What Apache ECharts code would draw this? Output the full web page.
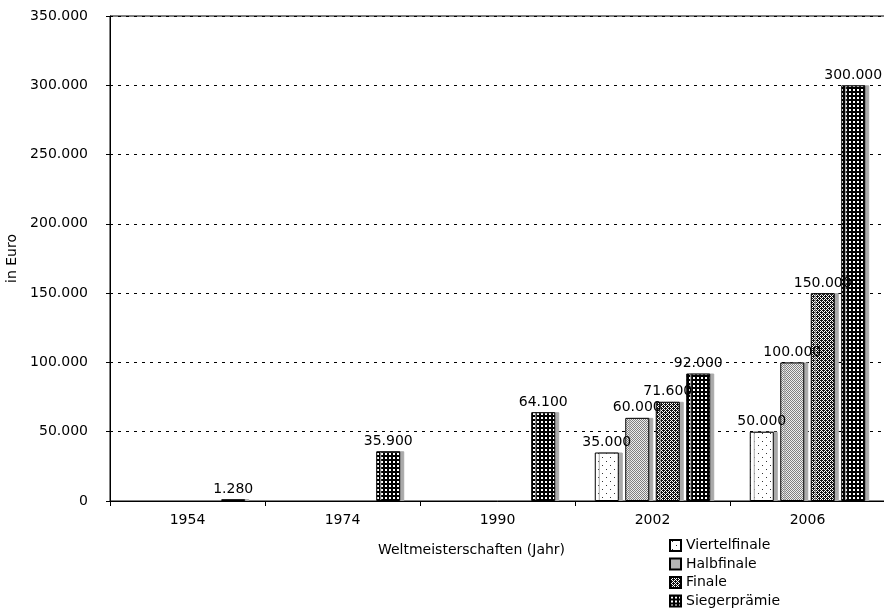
<!DOCTYPE html>
<html><head><meta charset="utf-8">
<script src="https://cdn.jsdelivr.net/npm/echarts@6/dist/echarts.min.js"></script>
<style>html,body{margin:0;padding:0;background:#fff}#c{width:884px;height:610px}</style>
</head><body><div id="c"></div>
<script>
const categories = ['1954', '1974', '1990', '2002', '2006'];
const seriesNames = ['Viertelfinale', 'Halbfinale', 'Finale', 'Siegerprämie'];
const viertelfinale = [null, null, null, 35000, 50000];
const halbfinale = [null, null, null, 60000, 100000];
const finale = [null, null, null, 71600, 150000];
const siegerpraemie = [1280, 35900, 64100, 92000, 300000];
const yTicks = [0, 50000, 100000, 150000, 200000, 250000, 300000, 350000];

function fmt(v) { return String(v).replace(/\B(?=(\d{3})+(?!\d))/g, '.'); }

function pattern(w, h, bg, fg, pts) {
  const c = document.createElement('canvas');
  c.width = w; c.height = h;
  const g = c.getContext('2d');
  g.fillStyle = bg; g.fillRect(0, 0, w, h);
  g.fillStyle = fg;
  pts.forEach(p => g.fillRect(p[0], p[1], 1, 1));
  return { image: c, repeat: 'repeat' };
}
const patV = pattern(8, 8, '#ffffff', '#333333', [[2, 1], [6, 5]]);
const patH = pattern(2, 2, '#eeeeee', '#808080', [[0, 0], [1, 1]]);
const patF = pattern(4, 4, '#ffffff', '#111111', [[0,0],[2,0],[1,1],[3,1],[0,2],[2,2],[1,3],[3,3],[1,0],[3,2]]);
const patS = pattern(4, 4, '#000000', '#ffffff', [[1,1],[2,1],[1,2],[2,2]]);
const pats = [patV, patH, patF, patS];
const datas = [viertelfinale, halbfinale, finale, siegerpraemie];
const FONT = 'DejaVu Sans';

const chart = echarts.init(document.getElementById('c'), null, { renderer: 'canvas' });
chart.setOption({
  animation: false,
  backgroundColor: '#fff',
  textStyle: { fontFamily: FONT, color: '#000' },
  grid: { left: 110, top: 16, width: 775, height: 485, containLabel: false, outerBoundsMode: 'none', show: true, borderColor: '#000', borderWidth: 1, backgroundColor: 'transparent' },
  legend: {
    orient: 'vertical', left: 669, top: 538, bottom: 0, padding: 0, itemWidth: 11, itemHeight: 11, itemGap: 3.5,
    icon: 'rect',
    textStyle: { fontFamily: FONT, fontSize: 14, lineHeight: 15, color: '#000', padding: [0, 0, 0, 0] },
    data: seriesNames
  },
  xAxis: {
    type: 'category', data: categories,
    name: 'Weltmeisterschaften (Jahr)', nameLocation: 'middle', nameGap: 42,
    nameTextStyle: { fontFamily: FONT, fontSize: 14, color: '#000', padding: [0, 52, 0, 0] },
    axisLine: { lineStyle: { color: '#000', width: 1 } },
    axisTick: { show: true, alignWithLabel: false, length: 5, lineStyle: { color: '#000' } },
    axisLabel: { fontFamily: FONT, fontSize: 14, color: '#000', margin: 12 },
    splitLine: { show: false }
  },
  yAxis: {
    type: 'value', min: yTicks[0], max: yTicks[yTicks.length - 1], interval: yTicks[1] - yTicks[0],
    name: 'in Euro', nameLocation: 'middle', nameGap: 86,
    nameTextStyle: { fontFamily: FONT, fontSize: 14, color: '#000' },
    axisLine: { show: true, lineStyle: { color: '#000', width: 1 } },
    axisTick: { show: true, length: 4, lineStyle: { color: '#000' } },
    axisLabel: { fontFamily: FONT, fontSize: 14, color: '#000', margin: 22, formatter: v => fmt(v) },
    splitLine: { show: true, lineStyle: { color: '#000', type: [3, 5], width: 1 } }
  },
  series: seriesNames.map((n, i) => ({
    name: n, type: 'bar', data: datas[i],
    barWidth: 24, barGap: '27%',
    itemStyle: { color: pats[i], borderColor: '#000', borderWidth: 1, shadowColor: '#aaaaaa', shadowOffsetX: 4, shadowOffsetY: 0, shadowBlur: 0 },
    label: { show: true, position: 'top', distance: 3, fontFamily: FONT, fontSize: 14, color: '#000', formatter: p => fmt(p.value) }
  }))
});
</script></body></html>
